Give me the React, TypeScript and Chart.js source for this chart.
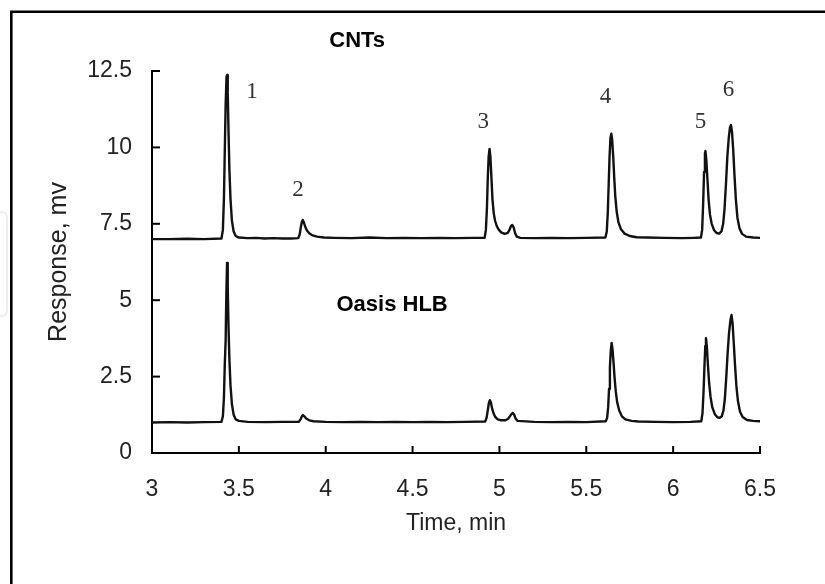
import * as React from 'react';
import {useRef, useEffect} from 'react';
import {Chart, registerables} from 'chart.js';

Chart.register(...registerables);

// retention time (min), response (mV)
const cntsTrace: [number, number][] = [
  [3.00, 7.00], [3.10, 7.00], [3.20, 7.01], [3.30, 7.00], [3.40, 7.02],
  [3.408, 7.3], [3.414, 8.3], [3.419, 9.9], [3.424, 11.4], [3.429, 12.3], [3.432, 12.37],
  [3.436, 11.8], [3.441, 10.4], [3.446, 9.2], [3.452, 8.3], [3.46, 7.6], [3.47, 7.25],
  [3.482, 7.1], [3.50, 7.05], [3.55, 7.03], [3.60, 7.04], [3.65, 7.02], [3.70, 7.03],
  [3.75, 7.02], [3.80, 7.02], [3.842, 7.03], [3.85, 7.15], [3.857, 7.4], [3.863, 7.57],
  [3.868, 7.62], [3.874, 7.55], [3.882, 7.4], [3.892, 7.28], [3.905, 7.19], [3.925, 7.12],
  [3.95, 7.08], [3.99, 7.05], [4.05, 7.04], [4.15, 7.03], [4.25, 7.05], [4.35, 7.03],
  [4.45, 7.04], [4.55, 7.03], [4.65, 7.04], [4.75, 7.03], [4.85, 7.04], [4.915, 7.04],
  [4.922, 7.3], [4.928, 8.0], [4.933, 9.0], [4.938, 9.7], [4.943, 9.95], [4.948, 9.7],
  [4.954, 9.0], [4.96, 8.3], [4.967, 7.85], [4.975, 7.6], [4.985, 7.42], [4.997, 7.3],
  [5.01, 7.22], [5.03, 7.17], [5.048, 7.2], [5.058, 7.3], [5.066, 7.42], [5.074, 7.46],
  [5.082, 7.38], [5.09, 7.2], [5.10, 7.08], [5.12, 7.04], [5.20, 7.03], [5.30, 7.04],
  [5.40, 7.03], [5.50, 7.04], [5.61, 7.05], [5.618, 7.25], [5.624, 7.9], [5.629, 8.8],
  [5.634, 9.7], [5.639, 10.3], [5.644, 10.45], [5.649, 10.25], [5.655, 9.7], [5.661, 9.0],
  [5.667, 8.4], [5.675, 7.9], [5.685, 7.55], [5.70, 7.32], [5.72, 7.18], [5.75, 7.1],
  [5.79, 7.06], [5.85, 7.05], [5.95, 7.04], [6.05, 7.03], [6.12, 7.04], [6.16, 7.05],
  [6.167, 7.3], [6.173, 8.2], [6.178, 9.2], [6.183, 9.8], [6.186, 9.88], [6.191, 9.6],
  [6.197, 9.0], [6.204, 8.3], [6.212, 7.8], [6.222, 7.5], [6.235, 7.3], [6.25, 7.2],
  [6.265, 7.18], [6.278, 7.25], [6.288, 7.5], [6.296, 8.0], [6.304, 8.8], [6.312, 9.7],
  [6.32, 10.3], [6.327, 10.65], [6.333, 10.73], [6.339, 10.5], [6.346, 9.9], [6.353, 9.1],
  [6.361, 8.3], [6.37, 7.7], [6.382, 7.35], [6.397, 7.17], [6.42, 7.08], [6.46, 7.05],
  [6.50, 7.04],
];

const oasisTrace: [number, number][] = [
  [3.00, 1.00], [3.10, 1.01], [3.20, 1.00], [3.30, 1.01], [3.40, 1.02],
  [3.408, 1.2], [3.414, 1.8], [3.419, 2.9], [3.424, 3.7], [3.428, 5.2], [3.432, 6.22],
  [3.436, 5.4], [3.441, 4.0], [3.446, 3.0], [3.452, 2.2], [3.46, 1.6], [3.47, 1.25],
  [3.482, 1.1], [3.50, 1.05], [3.55, 1.02], [3.65, 1.01], [3.75, 1.02], [3.845, 1.02],
  [3.855, 1.1], [3.863, 1.2], [3.869, 1.24], [3.877, 1.2], [3.888, 1.13], [3.905, 1.07],
  [3.93, 1.04], [4.0, 1.02], [4.1, 1.01], [4.2, 1.02], [4.3, 1.01], [4.4, 1.02],
  [4.5, 1.01], [4.6, 1.02], [4.7, 1.01], [4.8, 1.02], [4.918, 1.03], [4.926, 1.15],
  [4.933, 1.4], [4.939, 1.63], [4.945, 1.73], [4.951, 1.65], [4.958, 1.45], [4.966, 1.3],
  [4.976, 1.18], [4.99, 1.1], [5.01, 1.07], [5.035, 1.07], [5.05, 1.12], [5.06, 1.2],
  [5.07, 1.28], [5.077, 1.31], [5.085, 1.25], [5.093, 1.13], [5.105, 1.05], [5.2, 1.02],
  [5.3, 1.01], [5.4, 1.02], [5.5, 1.01], [5.612, 1.04], [5.62, 1.15], [5.626, 1.5],
  [5.631, 2.1], [5.636, 2.8], [5.641, 3.35], [5.646, 3.6], [5.651, 3.4], [5.657, 2.95],
  [5.663, 2.45], [5.67, 2.0], [5.678, 1.65], [5.69, 1.38], [5.705, 1.2], [5.725, 1.1],
  [5.76, 1.05], [5.8, 1.03], [5.9, 1.02], [6.0, 1.01], [6.1, 1.02], [6.162, 1.04],
  [6.169, 1.3], [6.175, 2.0], [6.18, 2.8], [6.185, 3.5], [6.189, 3.76], [6.194, 3.5],
  [6.2, 2.9], [6.207, 2.3], [6.215, 1.85], [6.225, 1.5], [6.24, 1.27], [6.255, 1.17],
  [6.268, 1.15], [6.28, 1.2], [6.29, 1.4], [6.298, 1.8], [6.306, 2.5], [6.314, 3.3],
  [6.322, 3.95], [6.33, 4.35], [6.336, 4.52], [6.342, 4.25], [6.349, 3.6], [6.356, 2.9],
  [6.364, 2.2], [6.373, 1.7], [6.385, 1.35], [6.4, 1.18], [6.425, 1.08], [6.46, 1.05],
  [6.5, 1.04],
];

// peak numbers and where they sit (data coords)
const peakNames = ['1', '2', '3', '4', '5', '6'];
const peakNameX = [3.576, 3.841, 4.907, 5.61, 6.157, 6.318];
const peakNameY = [11.81, 8.61, 10.83, 11.65, 10.83, 11.88];

const traceNames = ['CNTs', 'Oasis HLB'];
const traceNameX = [4.181, 4.382];
const traceNameY = [13.48, 4.84];

const X_MIN = 3, X_MAX = 6.5, X_STEP = 0.5;
const Y_MIN = 0, Y_MAX = 12.5, Y_STEP = 2.5;

const SANS = '"Liberation Sans", Arial, sans-serif';
const SERIF = '"Liberation Serif", "Times New Roman", serif';

const decorations = {
  id: 'decorations',
  beforeDraw(chart) {
    const ctx = chart.ctx;
    ctx.save();
    // outer frame, cut off at right and bottom
    ctx.strokeStyle = '#000';
    ctx.lineWidth = 2.6;
    ctx.beginPath();
    ctx.moveTo(11.3, 584);
    ctx.lineTo(11.3, 11.8);
    ctx.lineTo(825, 11.8);
    ctx.stroke();
    // faint scan artefact on the left edge
    ctx.strokeStyle = '#e9e9e9';
    ctx.lineWidth = 1.5;
    ctx.beginPath();
    ctx.moveTo(0, 212);
    ctx.lineTo(2, 212);
    ctx.quadraticCurveTo(7, 212, 7, 218);
    ctx.lineTo(7, 310);
    ctx.quadraticCurveTo(7, 316, 2, 316);
    ctx.lineTo(0, 316);
    ctx.stroke();
    ctx.restore();
  },
  afterDraw(chart) {
    const {ctx, scales: {x, y}} = chart;
    ctx.save();
    // inward tick marks
    ctx.strokeStyle = '#000';
    ctx.lineWidth = 2;
    x.ticks.forEach(t => {
      if (t.value === X_MIN) return;
      const px = x.getPixelForValue(t.value);
      ctx.beginPath();
      ctx.moveTo(px, y.bottom);
      ctx.lineTo(px, y.bottom - 7);
      ctx.stroke();
    });
    y.ticks.forEach(t => {
      if (t.value === Y_MIN) return;
      const py = y.getPixelForValue(t.value);
      ctx.beginPath();
      ctx.moveTo(x.left, py);
      ctx.lineTo(x.left + 8, py);
      ctx.stroke();
    });
    ctx.textAlign = 'center';
    ctx.textBaseline = 'middle';
    ctx.fillStyle = '#333';
    ctx.font = `23px ${SERIF}`;
    peakNames.forEach((n, i) => {
      ctx.fillText(n, x.getPixelForValue(peakNameX[i]), y.getPixelForValue(peakNameY[i]));
    });
    ctx.fillStyle = '#000';
    ctx.font = `bold 22px ${SANS}`;
    traceNames.forEach((n, i) => {
      ctx.fillText(n, x.getPixelForValue(traceNameX[i]), y.getPixelForValue(traceNameY[i]));
    });
    ctx.restore();
  }
};

const fmt = v => String(Math.round(Number(v) * 10) / 10);

export default function App() {
  const canvasRef = useRef(null);

  useEffect(() => {
    const ctx = canvasRef.current.getContext('2d');
    const line = (name, pts) => ({
      label: name,
      data: pts.map(p => ({x: p[0], y: p[1]})),
      borderColor: '#111',
      borderWidth: 2.4,
      borderJoinStyle: 'round',
      borderCapStyle: 'round',
      pointRadius: 0,
      tension: 0,
      fill: false,
    });
    const chart = new Chart(ctx, {
      type: 'line',
      data: {
        datasets: [line('CNTs', cntsTrace), line('Oasis HLB', oasisTrace)]
      },
      options: {
        animation: false,
        responsive: true,
        maintainAspectRatio: false,
        layout: {padding: {left: 0, right: 65, top: 71, bottom: 0}},
        plugins: {legend: {display: false}, tooltip: {enabled: false}},
        scales: {
          x: {
            type: 'linear',
            min: X_MIN,
            max: X_MAX,
            grid: {display: true, drawOnChartArea: false, drawTicks: false},
            border: {display: true, color: '#000', width: 2},
            ticks: {stepSize: X_STEP, padding: 23, color: '#222', font: {family: SANS, size: 23}, callback: fmt},
            title: {display: true, text: 'Time, min', color: '#222', padding: {top: 0, bottom: 47}, font: {family: SANS, size: 23}},
            afterFit: s => { s.height = 131; }
          },
          y: {
            min: Y_MIN,
            max: Y_MAX,
            grid: {display: true, drawOnChartArea: false, drawTicks: false},
            border: {display: true, color: '#000', width: 2},
            ticks: {stepSize: Y_STEP, padding: 20, color: '#222', font: {family: SANS, size: 23}, callback: fmt},
            title: {display: true, text: 'Response, mv', color: '#222', padding: {top: 44, bottom: 0}, font: {family: SANS, size: 25}},
            afterFit: s => { s.width = 152; }
          }
        }
      },
      plugins: [decorations]
    });
    return () => chart.destroy();
  }, []);

  return <div style={{position: 'fixed', left: 0, top: 0, width: 825, height: 584, background: '#fff'}}>
    <canvas ref={canvasRef} />
  </div>;
}
